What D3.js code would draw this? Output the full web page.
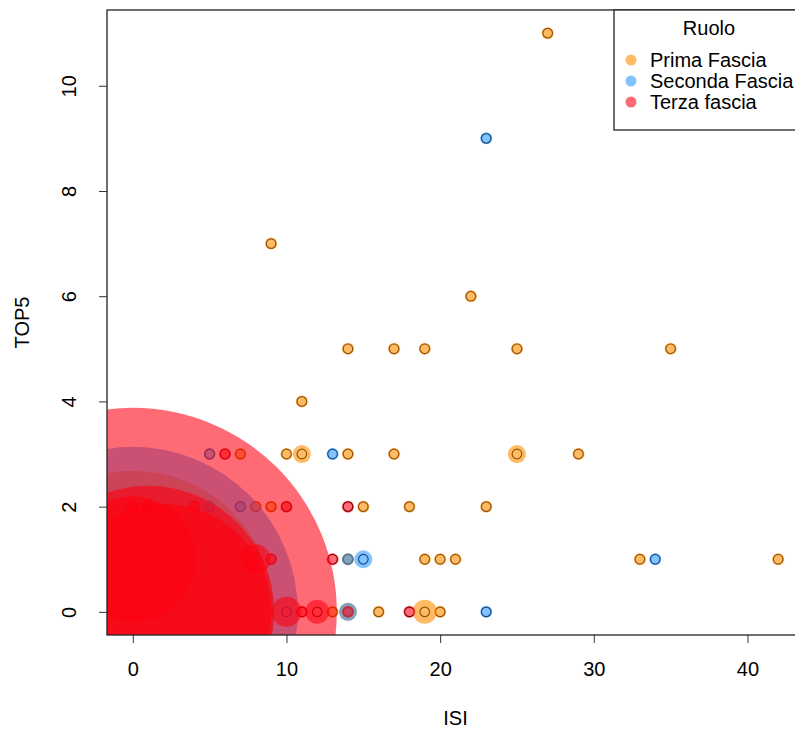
<!DOCTYPE html>
<html>
<head>
<meta charset="utf-8">
<script src="https://cdn.jsdelivr.net/npm/d3@7"></script>
<style>
    body { margin: 0; background: #fff; }
    text { font-family: "Liberation Sans", Arial, Helvetica, sans-serif; fill: #000; }
</style>
</head>
<body>
<div id="chart"></div>
<script>
// categories
var roles = ["Prima Fascia", "Seconda Fascia", "Terza fascia"];

// [ISI, TOP5, number of people at that point]
var primaFascia = [
    [0, 0, 46], [27, 11, 1], [9, 7, 1], [22, 6, 1],
    [14, 5, 1], [17, 5, 1], [19, 5, 1], [25, 5, 1], [35, 5, 1],
    [11, 4, 1],
    [7, 3, 1], [10, 3, 1], [11, 3, 2], [14, 3, 1], [17, 3, 1], [25, 3, 2], [29, 3, 1],
    [8, 2, 1], [9, 2, 1], [15, 2, 1], [18, 2, 1], [23, 2, 1],
    [14, 1, 1], [19, 1, 1], [20, 1, 1], [21, 1, 1], [33, 1, 1], [42, 1, 1],
    [13, 0, 1], [14, 0, 2], [16, 0, 1], [19, 0, 3], [20, 0, 1]
];
var secondaFascia = [
    [0, 0, 54], [23, 9, 1], [5, 3, 1], [13, 3, 1], [5, 2, 1], [7, 2, 1],
    [14, 1, 1], [15, 1, 2], [34, 1, 1], [14, 0, 2], [23, 0, 1]
];
var terzaFascia = [
    [0, 0, 67], [1, 0, 41], [2, 0, 35], [0, 1, 20],
    [6, 3, 1], [0, 2, 1], [1, 2, 1], [4, 2, 1], [10, 2, 1], [14, 2, 1],
    [8, 1, 4], [9, 1, 1], [13, 1, 1],
    [10, 0, 4], [11, 0, 1], [12, 0, 3], [14, 0, 1], [18, 0, 1]
];

var xTicks = [0, 10, 20, 30, 40];
var yTicks = [0, 2, 4, 6, 8, 10];

var fills = ["rgba(255,140,0,0.6)", "rgba(30,144,255,0.55)", "rgba(255,0,15,0.58)"];

var svgWidth = 795, svgHeight = 731;
var margin = { top: 10, right: -9, bottom: 96, left: 107 };
var width = svgWidth - margin.left - margin.right;
var height = svgHeight - margin.top - margin.bottom;

var svg = d3.select("#chart").append("svg")
    .attr("width", svgWidth)
    .attr("height", svgHeight);

var g = svg.append("g")
    .attr("transform", `translate(${margin.left}, ${margin.top})`);

g.append("clipPath").attr("id", "plotclip")
    .append("rect").attr("width", width).attr("height", height);

// R style 4% padding
var xScale = d3.scaleLinear().domain([-1.68, 43.68]).range([0, width]);
var yScale = d3.scaleLinear().domain([-0.44, 11.44]).range([height, 0]);
var rScale = d3.scaleLinear().domain([0, 1]).range([3, 6]); // radius = 3 + 3n

var groups = [primaFascia, secondaFascia, terzaFascia];
var all = [];
groups.forEach(function(rows, i) {
    rows.forEach(function(r) { all.push({ role: i, x: r[0], y: r[1], n: r[2] }); });
});

var plot = g.append("g").attr("clip-path", "url(#plotclip)");

// point outlines first
plot.selectAll("circle.pt")
    .data(all)
    .enter()
    .append("circle")
    .attr("class", "pt")
    .attr("cx", d => xScale(d.x))
    .attr("cy", d => yScale(d.y))
    .attr("r", 4.8)
    .attr("fill", "none")
    .attr("stroke", "#000")
    .attr("stroke-width", 1.2);

// then the bubbles, one role after the other
plot.selectAll("circle.bub")
    .data(all)
    .enter()
    .append("circle")
    .attr("class", "bub")
    .attr("cx", d => xScale(d.x))
    .attr("cy", d => yScale(d.y))
    .attr("r", d => rScale(d.n))
    .attr("fill", d => fills[d.role]);

// axes
var xAxis = g.append("g")
    .attr("transform", `translate(0, ${height})`)
    .call(d3.axisBottom(xScale).tickValues(xTicks).tickSize(8).tickPadding(19));
var yAxis = g.append("g")
    .call(d3.axisLeft(yScale).tickValues(yTicks).tickSize(8).tickPadding(0));

[xAxis, yAxis].forEach(function(a) {
    a.select(".domain").remove();
    a.selectAll("line").attr("stroke", "#333").attr("stroke-width", 1);
    a.selectAll("text").attr("font-size", "20px").attr("font-family", null);
});

yAxis.selectAll("text")
    .attr("x", null)
    .attr("dy", "0.35em")
    .attr("text-anchor", "middle")
    .attr("transform", "translate(-38, 0) rotate(-90)");

// box
g.append("rect")
    .attr("width", width)
    .attr("height", height)
    .attr("fill", "none")
    .attr("stroke", "#222")
    .attr("stroke-width", 1.3);

// axis labels
g.append("text")
    .attr("transform", `translate(${width / 2}, ${height + 90})`)
    .attr("text-anchor", "middle")
    .attr("font-size", "20px")
    .text("ISI");

g.append("text")
    .attr("transform", `translate(${22 - margin.left}, ${height / 2}) rotate(-90)`)
    .attr("dy", "0.35em")
    .attr("text-anchor", "middle")
    .attr("font-size", "20px")
    .text("TOP5");

// legend
var legend = g.append("g").attr("transform", `translate(${614 - margin.left}, 0)`);
legend.append("rect")
    .attr("width", 200)
    .attr("height", 120)
    .attr("fill", "#fff")
    .attr("stroke", "#222")
    .attr("stroke-width", 1.3);
legend.append("text")
    .attr("x", 95)
    .attr("y", 25)
    .attr("text-anchor", "middle")
    .attr("font-size", "20px")
    .text("Ruolo");
var items = legend.selectAll("g.item")
    .data(roles)
    .enter()
    .append("g")
    .attr("class", "item")
    .attr("transform", (d, i) => `translate(0, ${50 + i * 21})`);
items.append("circle")
    .attr("cx", 17)
    .attr("r", 5.5)
    .attr("fill", (d, i) => fills[i]);
items.append("text")
    .attr("x", 36)
    .attr("dy", "0.35em")
    .attr("font-size", "20px")
    .text(d => d);
</script>
</body>
</html>
